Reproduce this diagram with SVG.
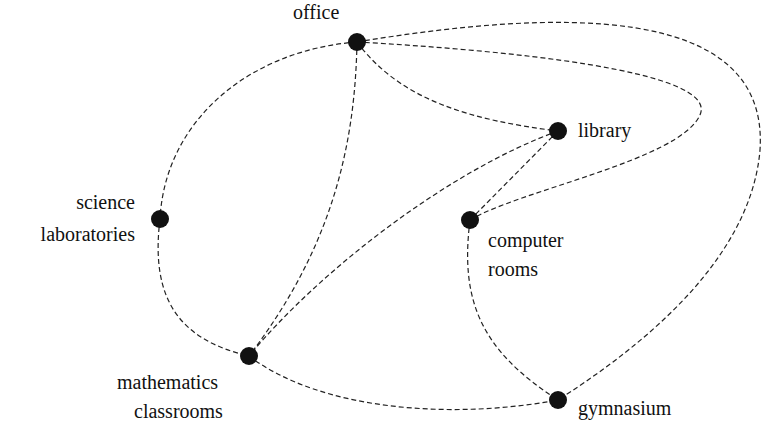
<svg xmlns="http://www.w3.org/2000/svg" width="772" height="424" viewBox="0 0 772 424">
<style>
.e{fill:none;stroke:#222;stroke-width:1.2;stroke-dasharray:5,3}
.n{fill:#111}
text{font-family:"Liberation Serif",serif;font-size:20px;fill:#111}
</style>
<rect width="772" height="424" fill="#fff"/>
<g id="connectors">
<path class="e" d="M357,42 C250,50 165,120 160,219"/>
<path class="e" d="M160,219 C150,300 180,340 249,356"/>
<path class="e" d="M357,42 C355,150 330,250 249,356"/>
<path class="e" d="M357,42 C400,100 470,120 558,131"/>
<path class="e" d="M357,42 C500,50 720,70 700,115 C680,160 520,190 470,220"/>
<path class="e" d="M357,42 C550,10 770,0 760,150 C750,270 620,360 558,400"/>
<path class="e" d="M558,131 L470,220"/>
<path class="e" d="M558,131 C450,170 320,270 249,356"/>
<path class="e" d="M470,220 C460,300 480,350 558,400"/>
<path class="e" d="M249,356 C320,410 450,420 558,400"/>
</g>
<g id="office"><circle class="n" cx="357" cy="42" r="9"/><text x="293" y="19">office</text></g>
<g id="library"><circle class="n" cx="558" cy="131" r="9"/><text x="578" y="137">library</text></g>
<g id="computer"><circle class="n" cx="470" cy="220" r="9"/><text x="488" y="247">computer</text><text x="488" y="276">rooms</text></g>
<g id="science"><circle class="n" cx="160" cy="219" r="9"/><text x="135" y="209" text-anchor="end">science</text><text x="135" y="241" text-anchor="end">laboratories</text></g>
<g id="math"><circle class="n" cx="249" cy="356" r="9"/><text x="117" y="389">mathematics</text><text x="134" y="418">classrooms</text></g>
<g id="gym"><circle class="n" cx="558" cy="400" r="9"/><text x="578" y="415">gymnasium</text></g>
</svg>
